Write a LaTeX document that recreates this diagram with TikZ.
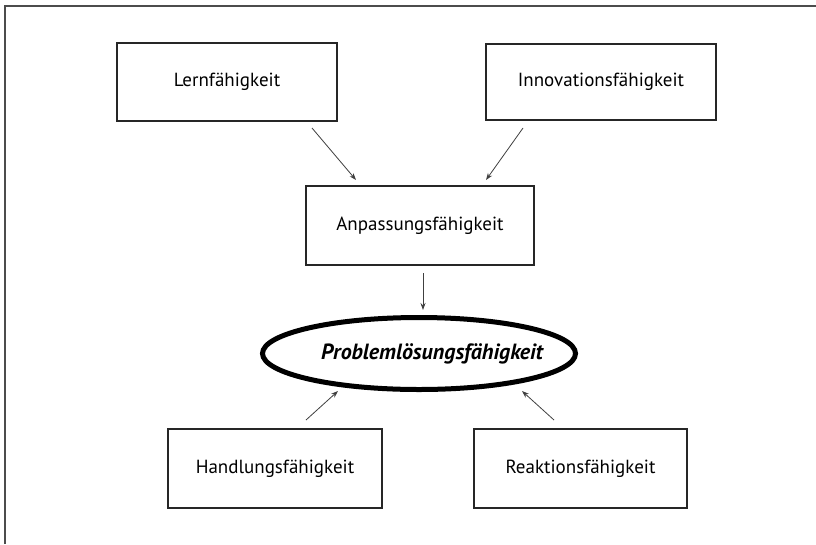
\documentclass[tikz,border=0pt]{standalone}
\usepackage{fontspec}
\setmainfont{PT Sans}
\usetikzlibrary{shapes.geometric,arrows.meta}
\begin{document}
\begin{tikzpicture}[x=1pt,y=-1pt,
  box/.style={draw=black!85,line width=2pt,rectangle,inner sep=0pt,font=\fontsize{19}{22}\selectfont},
  goal/.style={draw=black,line width=5pt,ellipse,inner sep=0pt},
  goaltext/.style={font=\fontsize{22}{25}\selectfont\bfseries\itshape,xshift=13pt},
  arr/.style={draw=black!75,line width=0.8pt,-{Stealth[length=7pt,width=5pt]}}]
\useasboundingbox (0,0) rectangle (816,544);
\fill[white] (0,0) rectangle (816,544);
\draw[black!70,line width=2pt] (5,544) -- (5,6) -- (816,6);
\node[box,minimum width=220pt,minimum height=78pt] (lern) at (227,82) {Lernfähigkeit};
\node[box,minimum width=230pt,minimum height=76pt] (innov) at (601,82) {Innovationsfähigkeit};
\node[box,minimum width=228pt,minimum height=79pt] (anp) at (420,225.5) {Anpassungsfähigkeit};
\node[goal,minimum width=313pt,minimum height=72pt,label={[goaltext]center:Problemlösungsfähigkeit}] (prob) at (419,353.5) {};
\node[box,minimum width=214pt,minimum height=79pt] (hand) at (275,468.5) {Handlungsfähigkeit};
\node[box,minimum width=213pt,minimum height=79pt] (reak) at (580.5,468.5) {Reaktionsfähigkeit};
\coordinate (a1s) at (312,128); \coordinate (a1e) at (356,180);
\coordinate (a2s) at (523,128); \coordinate (a2e) at (486,180);
\coordinate (a3s) at (423,273); \coordinate (a3e) at (423,310);
\coordinate (a4s) at (306,420); \coordinate (a4e) at (338,391);
\coordinate (a5s) at (554,420); \coordinate (a5e) at (522,391);
\draw[arr] (a1s) -- (a1e);
\draw[arr] (a2s) -- (a2e);
\draw[arr] (a3s) -- (a3e);
\draw[arr] (a4s) -- (a4e);
\draw[arr] (a5s) -- (a5e);
\end{tikzpicture}
\end{document}
